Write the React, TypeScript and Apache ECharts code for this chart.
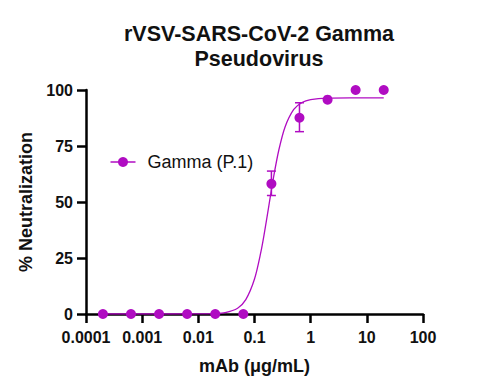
import React, { useEffect, useRef } from 'react';
import * as echarts from 'echarts';

// Measured data points (mAb concentration in µg/mL vs % neutralization)
const concentrations = [0.0002, 0.000632, 0.002, 0.00632, 0.02, 0.0632, 0.2, 0.632, 2, 6.32, 20];
const neutralization = [0, 0, 0, 0, 0, 0, 58.1, 87.6, 95.7, 100, 100];

// Error bars (only visible where they exceed the marker)
const errorX = [0.2, 0.632];
const errorLow = [52.9, 81.4];
const errorHigh = [63.8, 94.3];

// Fitted curve
const curveX = [0.0002, 0.001, 0.01, 0.02, 0.03, 0.05, 0.07, 0.1, 0.13, 0.15, 0.18, 0.22, 0.27, 0.35, 0.5, 0.7, 1, 2, 5, 20];
const curveY = [0, 0, 0.03, 0.2, 0.6, 2.6, 6.4, 15.6, 27.7, 36.2, 48.3, 61.5, 73.0, 83.5, 91.3, 94.4, 95.7, 96.4, 96.5, 96.5];

const xTickLabels = ['0.0001', '0.001', '0.01', '0.1', '1', '10', '100'];
const yTicks = [0, 25, 50, 75, 100];

const seriesName = 'Gamma (P.1)';
const COLOR = '#B00CC2';
const FONT = '"Liberation Sans", Arial, Helvetica, sans-serif';

export default function App() {
  const ref = useRef<HTMLDivElement>(null);

  useEffect(() => {
    if (!ref.current) return;
    const chart = echarts.init(ref.current, null, { renderer: 'svg' });
    const option: any = {
      animation: false,
      backgroundColor: '#ffffff',
      textStyle: { fontFamily: FONT },
      title: {
        text: 'rVSV-SARS-CoV-2 Gamma\nPseudovirus',
        left: 254,
        top: 16,
        textAlign: 'center',
        textStyle: { fontFamily: FONT, fontSize: 21.5, fontWeight: 'bold', color: '#111', lineHeight: 25 },
      },
      grid: { left: 86, right: 54, top: 90, bottom: 78, containLabel: false },
      xAxis: {
        type: 'log',
        logBase: 10,
        min: 0.0001,
        max: 100,
        interval: 1,
        name: 'mAb (\u03bcg/mL)',
        nameLocation: 'middle',
        nameGap: 43,
        nameTextStyle: { fontFamily: FONT, fontSize: 18, fontWeight: 'bold', color: '#111' },
        axisLine: { lineStyle: { color: '#000', width: 2.5 } },
        axisTick: { show: true, length: 9, lineStyle: { color: '#000', width: 2.5 } },
        minorTick: { show: false },
        splitLine: { show: false },
        axisLabel: {
          fontFamily: FONT,
          fontSize: 16,
          fontWeight: 'bold',
          color: '#111',
          margin: 15,
          formatter: (v: number) => xTickLabels[Math.round(Math.log10(v)) + 4] ?? '',
        },
      },
      yAxis: {
        type: 'value',
        min: yTicks[0],
        max: yTicks[yTicks.length - 1],
        interval: 25,
        name: '% Neutralization',
        nameLocation: 'middle',
        nameGap: 49,
        nameTextStyle: { fontFamily: FONT, fontSize: 18, fontWeight: 'bold', color: '#111' },
        axisLine: { show: true, lineStyle: { color: '#000', width: 2.5 } },
        axisTick: { show: true, length: 9, lineStyle: { color: '#000', width: 2.5 } },
        splitLine: { show: false },
        axisLabel: { fontFamily: FONT, fontSize: 16, fontWeight: 'bold', color: '#111', margin: 13 },
      },
      graphic: [
        {
          type: 'group',
          left: 108,
          top: 153,
          children: [
            { type: 'line', shape: { x1: 0, y1: 8, x2: 25, y2: 8 }, style: { stroke: COLOR, lineWidth: 1.5 } },
            { type: 'circle', shape: { cx: 12.5, cy: 8, r: 5 }, style: { fill: COLOR } },
            {
              type: 'text',
              x: 37,
              y: 8,
              style: { text: seriesName, fontFamily: FONT, fontSize: 18, fill: '#111', verticalAlign: 'middle', align: 'left' },
            },
          ],
        },
      ],
      series: [
        {
          name: 'fit',
          type: 'line',
          data: curveX.map((x, i) => [x, curveY[i]]),
          smooth: 0.3,
          showSymbol: false,
          symbol: 'none',
          lineStyle: { color: COLOR, width: 1.3 },
          z: 2,
        },
        {
          name: 'error',
          type: 'custom',
          data: errorX.map((x, i) => [x, errorLow[i], errorHigh[i]]),
          encode: { x: 0, y: [1, 2] },
          renderItem: (params: any, api: any) => {
            const x = api.value(0);
            const lo = api.coord([x, api.value(1)]);
            const hi = api.coord([x, api.value(2)]);
            const half = 4.5;
            const style = { stroke: COLOR, lineWidth: 1.5 };
            return {
              type: 'group',
              children: [
                { type: 'line', shape: { x1: lo[0], y1: lo[1], x2: hi[0], y2: hi[1] }, style },
                { type: 'line', shape: { x1: lo[0] - half, y1: lo[1], x2: lo[0] + half, y2: lo[1] }, style },
                { type: 'line', shape: { x1: hi[0] - half, y1: hi[1], x2: hi[0] + half, y2: hi[1] }, style },
              ],
            };
          },
          z: 3,
        },
        {
          name: seriesName,
          type: 'scatter',
          data: concentrations.map((x, i) => [x, neutralization[i]]),
          symbol: 'circle',
          symbolSize: 10,
          itemStyle: { color: COLOR, opacity: 1 },
          clip: false,
          z: 4,
        },
      ],
    };
    chart.setOption(option);
    return () => chart.dispose();
  }, []);

  return (
    <div
      ref={ref}
      style={{ position: 'fixed', left: 0, top: 0, width: 477, height: 392, background: '#fff' }}
    />
  );
}
